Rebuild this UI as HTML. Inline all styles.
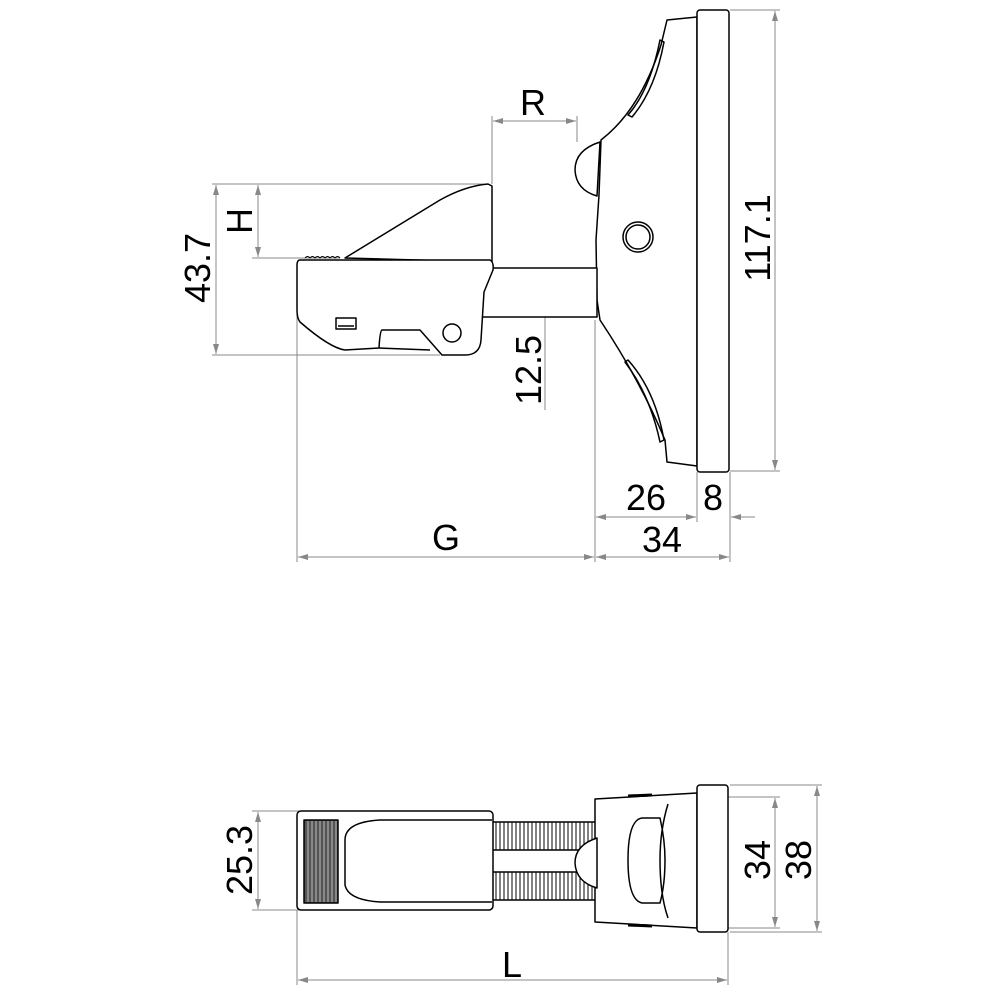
<!DOCTYPE html>
<html><head><style>
html,body{margin:0;padding:0;background:#fff;}
svg{display:block;}
text{font-family:"Liberation Sans",sans-serif;font-size:36px;fill:#000;}
</style></head><body>
<svg width="1000" height="1000" viewBox="0 0 1000 1000" xmlns="http://www.w3.org/2000/svg">
<defs>
<marker id="a" viewBox="0 0 10 6" refX="10" refY="3" markerWidth="10" markerHeight="6" orient="auto-start-reverse" markerUnits="userSpaceOnUse">
<path d="M0,0 L10,3 L0,6 z" fill="#888"/></marker>
</defs>
<g stroke="#888" stroke-width="1" fill="none">
<line x1="492" y1="116" x2="492" y2="184"/><line x1="577" y1="116" x2="577" y2="142"/>
<line x1="493" y1="121" x2="576" y2="121" marker-start="url(#a)" marker-end="url(#a)"/>
<line x1="212" y1="184" x2="488" y2="184"/><line x1="252" y1="258" x2="340" y2="258"/>
<line x1="258" y1="185" x2="258" y2="257" marker-start="url(#a)" marker-end="url(#a)"/>
<line x1="212" y1="355" x2="440" y2="355"/>
<line x1="216" y1="185" x2="216" y2="354" marker-start="url(#a)" marker-end="url(#a)"/>
<line x1="545" y1="269" x2="545" y2="316" marker-start="url(#a)" marker-end="url(#a)"/>
<line x1="545" y1="316" x2="545" y2="410"/>
<line x1="730" y1="10" x2="780" y2="10"/><line x1="730" y1="471" x2="780" y2="471"/>
<line x1="775" y1="11" x2="775" y2="470" marker-start="url(#a)" marker-end="url(#a)"/>
<line x1="297" y1="262" x2="297" y2="562"/><line x1="595" y1="320" x2="595" y2="562"/>
<line x1="730" y1="472" x2="730" y2="562"/><line x1="697" y1="472" x2="697" y2="522"/>
<line x1="298" y1="557" x2="594" y2="557" marker-start="url(#a)" marker-end="url(#a)"/>
<line x1="596" y1="557" x2="729" y2="557" marker-start="url(#a)" marker-end="url(#a)"/>
<line x1="596" y1="517" x2="696" y2="517" marker-start="url(#a)" marker-end="url(#a)"/>
<line x1="755" y1="517" x2="731" y2="517" marker-end="url(#a)"/>
<line x1="252" y1="811" x2="300" y2="811"/><line x1="252" y1="910" x2="300" y2="910"/>
<line x1="258" y1="812" x2="258" y2="909" marker-start="url(#a)" marker-end="url(#a)"/>
<line x1="728" y1="797" x2="780" y2="797"/><line x1="728" y1="928" x2="780" y2="928"/>
<line x1="730" y1="785" x2="822" y2="785"/><line x1="730" y1="932" x2="822" y2="932"/>
<line x1="775" y1="798" x2="775" y2="927" marker-start="url(#a)" marker-end="url(#a)"/>
<line x1="817" y1="786" x2="817" y2="931" marker-start="url(#a)" marker-end="url(#a)"/>
<line x1="297" y1="910" x2="297" y2="985"/><line x1="728" y1="932" x2="728" y2="985"/>
<line x1="298" y1="980" x2="727" y2="980" marker-start="url(#a)" marker-end="url(#a)"/>
</g>
<g stroke="#000" stroke-width="1.5" fill="#fff" stroke-linejoin="round">
<path d="M667,20 L697,17 L697,466 L667,462 L665,440 Q640,380 600,320 L597,300 L596,240 L599,195 L601,140 Q640,110 661,45 Z"/>
<path d="M660,40 Q650,90 628,115 L632,117 Q655,90 664,42 Z" fill="none"/>
<path d="M628,360 Q655,390 664,440 L660,442 Q650,395 625,362 Z" fill="none"/>
<path d="M600,142 Q575,150 575,170 Q576,190 597,196 Z"/>
<rect x="697" y="10" width="32" height="462" rx="3"/>
<circle cx="638" cy="237" r="15"/><circle cx="638" cy="237" r="12" fill="none"/>
<rect x="480" y="268" width="117" height="49"/>
<path d="M345,258 L440,200 Q465,186 488,184 L492,186 L492,262 Z"/>
<path d="M300,260 L490,260 Q494,262 493,270 L484,292 L481,340 Q480,355 465,355 L442,355 L420,330 L382,330 Q380,330 379,348 L345,350 Q330,348 300,322 Q297,318 297,310 L297,265 Q297,260 300,260 Z"/>
<path d="M379,348 L430,350" fill="none"/>
<circle cx="452" cy="333" r="9"/>
<rect x="336" y="318" width="20" height="11" fill="none"/>
<path d="M338,326 L354,326" fill="none"/>
<path d="M305,258 q2.5,-3 5,0 q2.5,-3 5,0 q2.5,-3 5,0 q2.5,-3 5,0 q2.5,-3 5,0 q2.5,-3 5,0 q2.5,-3 5,0" fill="none" stroke-width="1"/>
<rect x="492" y="822" width="104" height="28" fill="#fff"/>
<rect x="492" y="872" width="104" height="28" fill="#fff"/>
<g stroke-width="1">
<path d="M496,822v28M500,822v28M504,822v28M508,822v28M512,822v28M516,822v28M520,822v28M524,822v28M528,822v28M532,822v28M536,822v28M540,822v28M544,822v28M548,822v28M552,822v28M556,822v28M560,822v28M564,822v28M568,822v28M572,822v28M576,822v28M580,822v28M584,822v28M588,822v28M592,822v28"/>
<path d="M496,872v28M500,872v28M504,872v28M508,872v28M512,872v28M516,872v28M520,872v28M524,872v28M528,872v28M532,872v28M536,872v28M540,872v28M544,872v28M548,872v28M552,872v28M556,872v28M560,872v28M564,872v28M568,872v28M572,872v28M576,872v28M580,872v28M584,872v28M588,872v28M592,872v28"/>
</g>
<rect x="297" y="811" width="196" height="99" rx="4"/>
<rect x="304" y="820" width="34" height="83" fill="#555" stroke="#000"/>
<g stroke="#bbb" stroke-width="1"><path d="M308,821v81M312,821v81M316,821v81M320,821v81M324,821v81M328,821v81M332,821v81M336,821v81"/></g>
<path d="M492,820 L380,820 Q345,822 345,840 L345,885 Q348,900 380,902 L492,902"/>
<path d="M595,799 L697,793 L697,928 L595,922 Z"/>
<path d="M628,796 L652,795" fill="none" stroke-width="3"/><path d="M628,925 L652,926" fill="none" stroke-width="3"/>
<path d="M597,838 Q575,845 575,863 Q576,882 597,888 Z"/>
<path d="M642,818 L660,818 Q665,840 665,860 Q665,885 660,903 L642,903 Q628,900 628,860 Q628,820 642,818 Z"/>
<path d="M668,804 Q660,830 660,860 Q660,895 668,918" fill="none"/>
<rect x="697" y="785" width="31" height="147" rx="3"/>
</g>
<g>
<text x="533" y="115" text-anchor="middle">R</text>
<text x="446" y="550" text-anchor="middle">G</text>
<text x="646" y="510" text-anchor="middle">26</text>
<text x="713" y="510" text-anchor="middle">8</text>
<text x="662" y="552" text-anchor="middle">34</text>
<text x="512" y="977" text-anchor="middle">L</text>
<text transform="translate(252,221) rotate(-90)" text-anchor="middle">H</text>
<text transform="translate(210,268) rotate(-90)" text-anchor="middle">43.7</text>
<text transform="translate(541,370) rotate(-90)" text-anchor="middle">12.5</text>
<text transform="translate(770,238) rotate(-90)" text-anchor="middle">117.1</text>
<text transform="translate(252,860) rotate(-90)" text-anchor="middle">25.3</text>
<text transform="translate(770,860) rotate(-90)" text-anchor="middle">34</text>
<text transform="translate(811,860) rotate(-90)" text-anchor="middle">38</text>
</g>
</svg>
</body></html>
